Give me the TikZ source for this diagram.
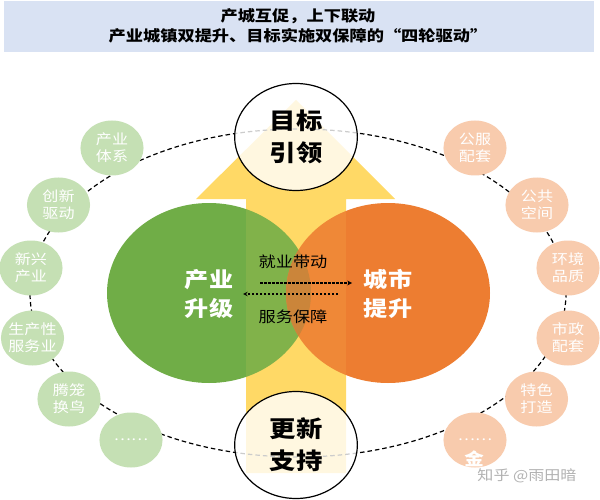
\documentclass[tikz,border=0pt]{standalone}
\usepackage{fontspec}
\setmainfont{Noto Sans CJK SC}
\usetikzlibrary{shapes.geometric}
\definecolor{bandblue}{HTML}{D9E2F3}
\definecolor{arrowyellow}{HTML}{FFD966}
\definecolor{bigGreen}{HTML}{70AD47}
\definecolor{bigOrange}{HTML}{ED7D31}
\definecolor{lensBrown}{HTML}{C47A35}
\definecolor{paleGreen}{HTML}{C5E0B4}
\definecolor{paleOrange}{HTML}{F8CBAD}
\tikzset{
  wide/.style={xscale=1.147,transform shape},
  greenitem/.style={wide,circle,fill=paleGreen,minimum size=55pt,inner sep=0pt,align=center,text=white,font=\fontsize{14}{17}\selectfont},
  orangeitem/.style={wide,circle,fill=paleOrange,minimum size=55pt,inner sep=0pt,align=center,text=white,font=\fontsize{14}{17}\selectfont},
  bigword/.style={wide,align=center,text=white,font=\fontsize{21}{29}\selectfont\bfseries},
  goalcircle/.style={wide,circle,draw=black,line width=1.2pt,fill=white,fill opacity=.8,text opacity=1,minimum size=107pt,inner sep=0pt,align=center,font=\fontsize{23}{32}\selectfont\bfseries},
  linkword/.style={wide,font=\fontsize{15}{17}\selectfont},
  linkarrow/.style={dash pattern=on 2.5pt off 1.5pt,line width=1.1pt,-stealth},
}
\begin{document}
\begin{tikzpicture}[x=1pt,y=-1pt]
\useasboundingbox (0,0) rectangle (600,500);
\fill[white] (0,0) rectangle (600,500);

\fill[bandblue] (4,1) rectangle (594,52);
\node[wide,font=\fontsize{15}{20}\selectfont\bfseries,align=center] (title) at (298,26) {产城互促，上下联动\\产业城镇双提升、目标实施双保障的“四轮驱动”};

\fill[arrowyellow] (296,100) -- (395,199) -- (346,199) -- (346,473) -- (246,473) -- (246,199) -- (196,199) -- cycle;

\draw[dash pattern=on 4.5pt off 3pt,line width=1.2pt] (298,293) ellipse [x radius=268,y radius=164];

\fill[bigGreen] (209,293) ellipse [x radius=102,y radius=90];
\fill[bigOrange] (388,293) ellipse [x radius=102,y radius=90];
\begin{scope}
\clip (209,293) ellipse [x radius=102,y radius=90];
\fill[lensBrown] (388,293) ellipse [x radius=102,y radius=90];
\end{scope}
\fill[arrowyellow,opacity=.12] (246,199) rectangle (346,387);

\node[bigword] (industry) at (209,294) {产业\\升级};
\node[bigword] (city) at (388,294) {城市\\提升};

\node[goalcircle] (goal) at (296,137) {目标\\引领};
\node[goalcircle] (renewal) at (296,445) {更新\\支持};

\node[greenitem] (g1) at (112,148) {产业\\体系};
\node[greenitem] (g2) at (58.5,205) {创新\\驱动};
\node[greenitem] (g3) at (31,268) {新兴\\产业};
\node[greenitem] (g4) at (32.5,338) {生产性\\服务业};
\node[greenitem] (g5) at (69,399) {腾笼\\换鸟};
\node[greenitem] (g6) at (131,440) {……};

\node[orangeitem] (o1) at (475,148) {公服\\配套};
\node[orangeitem] (o2) at (537,205) {公共\\空间};
\node[orangeitem] (o3) at (568,268) {环境\\品质};
\node[orangeitem] (o4) at (568,338) {市政\\配套};
\node[orangeitem] (o5) at (536.5,399) {特色\\打造};
\node[orangeitem] (o6) at (475,440) {……};

\node[wide,text=white,font=\fontsize{17}{20}\selectfont\bfseries] (gold) at (474,459) {金};
\node[wide,text=black!30,font=\fontsize{14}{17}\selectfont] (mark) at (527,476) {知乎 @雨田暗};

\node[linkword] (job) at (293,262) {就业带动};
\node[linkword] (service) at (293,317) {服务保障};

\coordinate (jobL) at (260,283);
\coordinate (jobR) at (352,283);
\coordinate (serviceR) at (338,294);
\coordinate (serviceL) at (243,294);
\draw[linkarrow] (jobL) -- (jobR);
\draw[linkarrow] (serviceR) -- (serviceL);
\end{tikzpicture}
\end{document}
